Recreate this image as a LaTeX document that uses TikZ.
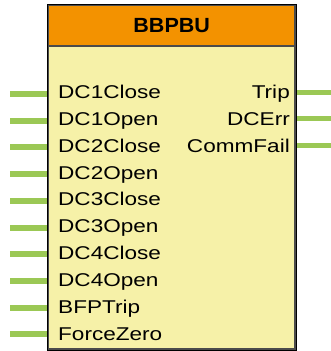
\documentclass[tikz,border=0pt]{standalone}
\usepackage{fontspec}
\setmainfont{Liberation Sans}
\newfontfamily\bodyfont[FakeStretch=1.22]{Liberation Sans}
\newfontfamily\headfont[FakeStretch=1.05]{Liberation Sans Bold}
\definecolor{hdr}{RGB}{243,146,0}
\definecolor{bodyy}{RGB}{246,241,168}
\definecolor{pin}{RGB}{155,200,85}
\definecolor{edge}{RGB}{75,75,75}
\definecolor{shade}{RGB}{165,165,165}
\tikzset{
  pinl/.style={draw=pin,line width=6pt},
  pinr/.style={draw=pin,line width=5pt},
  lbl/.style={inner sep=0pt,font=\bodyfont\fontsize{18.5}{20}\selectfont},
}
\begin{document}
\begin{tikzpicture}[x=1pt,y=-1pt]
\useasboundingbox (0,0) rectangle (331,351);
% shadow and box
\draw[shade,line width=3.5pt] (48.5,5.5) rectangle (295,349);
\fill[bodyy] (48.5,46) rectangle (295,349);
\fill[hdr] (48.5,5.5) rectangle (295,46);
\draw[edge,line width=1.5pt] (48.5,5.5) rectangle (295,349);
\draw[edge,line width=1.5pt] (48.5,46) -- (295,46);
\node[inner sep=0pt,font=\headfont\fontsize{20.5}{22}\selectfont] (title) at (171.7,26) {BBPBU};
% left pins
\foreach \t [count=\i from 0] in {DC1Close,DC1Open,DC2Close,DC2Open,DC3Close,DC3Open,DC4Close,DC4Open,BFPTrip,ForceZero}{
  \coordinate (pl\i) at (10,94+26.7*\i);
  \coordinate (pb\i) at (47,94+26.7*\i);
  \draw[pinl] (pl\i) -- (pb\i);
  \node[lbl,anchor=base west] (in\i) at (58,98.3+26.9*\i) {\t};
}
% right pins
\foreach \t [count=\i from 0] in {Trip,DCErr,CommFail}{
  \coordinate (pr\i) at (331,92+26.5*\i);
  \coordinate (qb\i) at (297,92+26.5*\i);
  \draw[pinr] (qb\i) -- (pr\i);
  \node[lbl,anchor=base east] (out\i) at (290,98.3+26.9*\i) {\t};
}
\end{tikzpicture}
\end{document}
